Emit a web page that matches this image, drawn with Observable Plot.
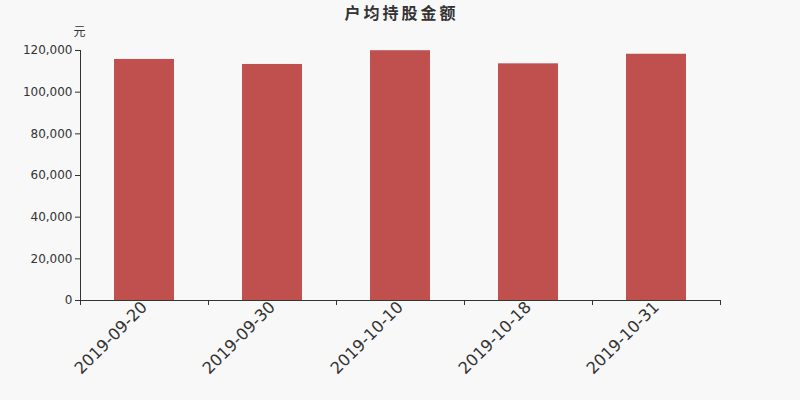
<!DOCTYPE html>
<html><head><meta charset="utf-8">
<script src="https://cdn.jsdelivr.net/npm/d3@7"></script>
<script src="https://cdn.jsdelivr.net/npm/@observablehq/plot@0.6"></script>
<style>
body{margin:0;background:#f8f8f8;font-family:"DejaVu Sans","Noto Sans CJK SC",sans-serif;}
#wrap{width:800px;height:400px;position:relative;overflow:hidden;}
#title{position:absolute;left:0;top:0;width:800px;height:28px;line-height:28px;text-align:center;font-size:16px;font-weight:bold;letter-spacing:3px;color:#333;padding-left:3px;box-sizing:border-box;}
svg{display:block;}
</style></head>
<body><div id="wrap"><div id="title">户均持股金额</div></div>
<script>
const dates = ["2019-09-20","2019-09-30","2019-10-10","2019-10-18","2019-10-31"];
const values = [115700, 113300, 119900, 113600, 118200];
const yTicks = [0,20000,40000,60000,80000,100000,120000];
const unit = "元";

const idx = d3.range(values.length);
const chart = Plot.plot({
  width:800, height:400, marginTop:50, marginLeft:80, marginRight:80, marginBottom:100,
  style:{background:"transparent", fontFamily:"'DejaVu Sans','Noto Sans CJK SC',sans-serif", fontSize:"12px", color:"#333"},
  x:{domain:[0, values.length]},
  y:{domain:[0, 120000]},
  marks:[
    Plot.rectY(idx, {x1:i=>i, x2:i=>i+1, y:i=>values[i], fill:"#c0504d", insetLeft:34, insetRight:34}),
    Plot.ruleY([0], {stroke:"#333"}),
    Plot.ruleX([0], {stroke:"#333"}),
    Plot.axisY({ticks:yTicks, tickFormat:d3.format(","), tickSize:5, tickPadding:3, label:null, stroke:"#333"}),
    Plot.axisX({ticks:d3.range(values.length+1), tickFormat:()=>"", tickSize:5, label:null, stroke:"#333"}),
    Plot.axisX({ticks:idx.map(i=>i+0.5), tickFormat:v=>dates[Math.floor(v)], tickSize:0, tickPadding:4, tickRotate:-45, fontSize:16.3, label:null}),
    Plot.text([unit], {frameAnchor:"top-left", dx:-1, dy:-23, textAnchor:"middle", fontSize:12, fill:"#333"})
  ]
});
document.getElementById("wrap").appendChild(chart);
</script>
</body></html>
